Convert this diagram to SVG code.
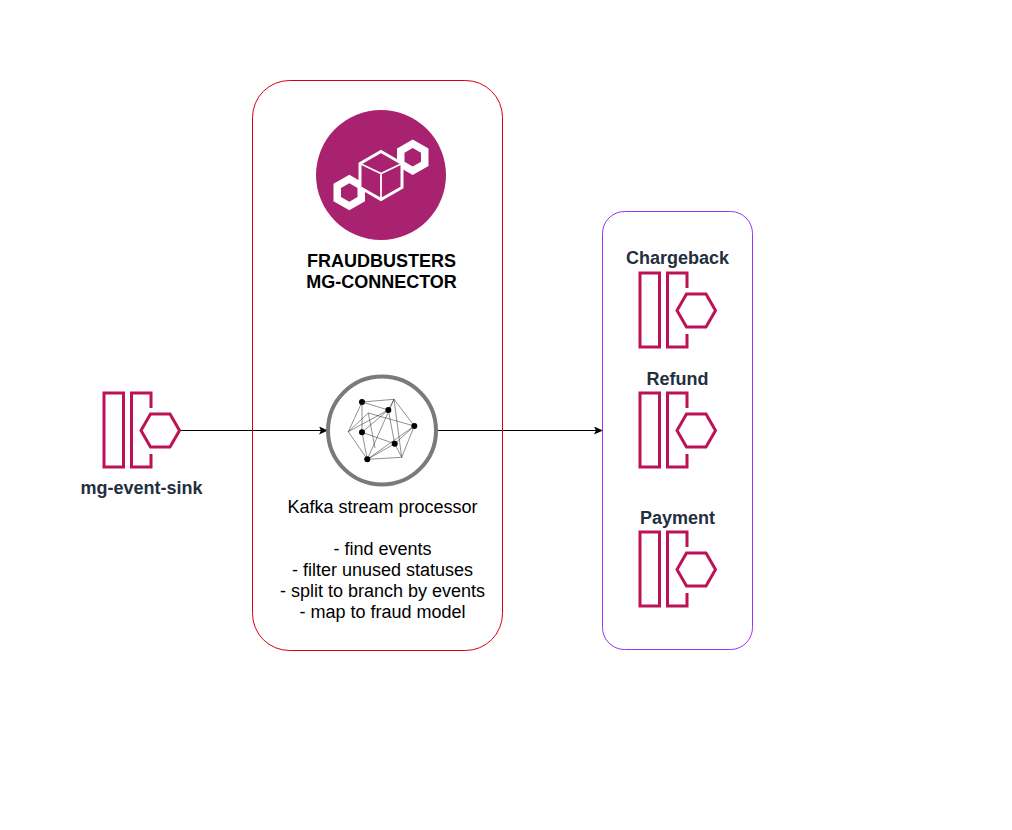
<svg xmlns="http://www.w3.org/2000/svg" width="1012" height="830" viewBox="0 0 1012 830">
<style>
text{font-family:"Liberation Sans",Arial,sans-serif;text-anchor:middle;font-size:18px}
.ttl{font-weight:bold;fill:#232f3e}
.blk{font-weight:bold;fill:#000}
.t{fill:#000}
.k{fill:none;stroke:#bc1356;stroke-width:3}
.c{fill:none;stroke:#000;stroke-width:1}
.n{fill:none;stroke:#222;stroke-width:.5}
</style>
<defs>
<marker id="arr" markerUnits="userSpaceOnUse" markerWidth="9" markerHeight="8" refX="8" refY="4" orient="auto"><path d="M0 0L9 4L0 8L2 4Z" fill="#000"/></marker>
<g id="kafka">
<rect class="k" x="104" y="393" width="19.500" height="74"/>
<path class="k" d="M151 408V393H131.500V467H151V454"/>
<path class="k" d="M141 430.500L150.500 414H170L179.500 430.500L170 447H150.500Z"/>
</g>
</defs>
<g id="connectors">
<path class="c" d="M180 430.500H327" marker-end="url(#arr)"/>
<path class="c" d="M438 430.500H602" marker-end="url(#arr)"/>
</g>
<g id="connector-box">
<rect x="252.500" y="80.500" width="250" height="570" rx="37" fill="none" stroke="#d5000d"/>
</g>
<g id="sink-box">
<rect x="602.500" y="211.500" width="150" height="438" rx="22" fill="none" stroke="#9933ff"/>
</g>
<g id="logo">
<circle cx="381" cy="175" r="65" fill="#a9226f"/>
<path d="M412.700 139.500L428.500 148.500V166L412.700 175L397 166V148.500ZM412.700 148L404.500 152.800V161.700L412.700 166.500L421 161.700V152.800Z" fill="#fff" fill-rule="evenodd"/>
<path d="M349.300 174.800L365 183.800V201.300L349.300 210.300L333.500 201.300V183.800ZM349.300 183.300L341 188.100V197L349.300 201.800L357.500 197V188.100Z" fill="#fff" fill-rule="evenodd"/>
<path d="M381 151.500L402 163.500V187.500L381 199.500L360 187.500V163.500Z" fill="#a9226f" stroke="#fff" stroke-width="3"/>
<path d="M361 164L381 173.500L401 164M381 173.500V198" fill="none" stroke="#fff" stroke-width="1.800"/>
<text class="blk" x="381.500" y="266.500">FRAUDBUSTERS</text>
<text class="blk" x="381.500" y="287.500">MG-CONNECTOR</text>
</g>
<g id="stream-processor">
<circle cx="382" cy="430.500" r="54" fill="#fff" stroke="#7a7a7a" stroke-width="4"/>
<path class="n" d="M362 402L394 399.300L414.300 426L401.700 457.300L367.300 459.300L348.300 431.700Z"/>
<path class="n" d="M362 402V432.300M362 402L388.300 410M368.300 413L414.300 426M394 399.300L388.300 410L394.700 443.700L401.700 457.300M394 399.300L401.700 457.300M394 399.300L367.300 459.300M348.300 431.700L388.300 410M348.300 431.700L368.300 413M362 432.300L388.300 410M362 432.300L367.300 459.300M362 432.300L394.700 443.700M414.300 426L394.700 443.700L367.300 459.300M414.300 426L367.300 459.300M368.300 413L375 448"/>
<g fill="#000">
<circle cx="362" cy="402" r="3"/><circle cx="388.300" cy="410" r="3"/><circle cx="414.300" cy="426" r="3"/><circle cx="394.700" cy="443.700" r="3"/><circle cx="367.300" cy="459.300" r="3"/><circle cx="362" cy="432.300" r="3"/>
</g>
<text class="t" x="382.500" y="513">Kafka stream processor</text>
<text class="t" x="382.500" y="555">- find events</text>
<text class="t" x="382.500" y="576">- filter unused statuses</text>
<text class="t" x="382.500" y="597">- split to branch by events</text>
<text class="t" x="382.500" y="618">- map to fraud model</text>
</g>
<g id="mg-event-sink">
<use href="#kafka"/>
<text class="ttl" x="141.500" y="494">mg-event-sink</text>
</g>
<g id="chargeback">
<use href="#kafka" x="536" y="-120"/>
<text class="ttl" x="677.500" y="264">Chargeback</text>
</g>
<g id="refund">
<use href="#kafka" x="536" y="0"/>
<text class="ttl" x="677.500" y="385">Refund</text>
</g>
<g id="payment">
<use href="#kafka" x="536" y="139"/>
<text class="ttl" x="677.500" y="524">Payment</text>
</g>
</svg>
